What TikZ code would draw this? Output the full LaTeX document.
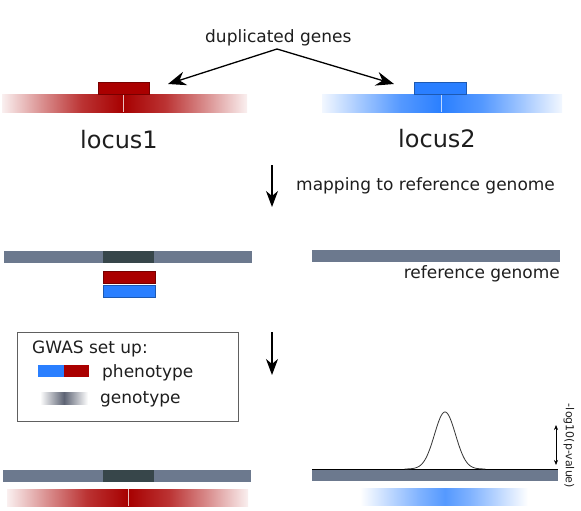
\documentclass[tikz,border=0pt]{standalone}
\usepackage{fontspec}
\setmainfont{DejaVu Sans}
\usetikzlibrary{arrows.meta}
\definecolor{dred}{HTML}{AA0000}
\definecolor{dblue}{HTML}{2A7FFF}
\definecolor{gbar}{HTML}{6C798E}
\definecolor{gdark}{HTML}{37464A}
\definecolor{gtype}{HTML}{5E6474}
\definecolor{txt}{HTML}{1E1E1E}
\pgfdeclarehorizontalshading{redL}{100bp}{color(0bp)=(dred!6); color(25bp)=(dred!6); color(42bp)=(dred!45); color(58bp)=(dred!80); color(75bp)=(dred!98!black); color(100bp)=(dred!98!black)}
\pgfdeclarehorizontalshading{redR}{100bp}{color(0bp)=(dred!98!black); color(25bp)=(dred!98!black); color(42bp)=(dred!80); color(58bp)=(dred!45); color(75bp)=(dred!6); color(100bp)=(dred!6)}
\pgfdeclarehorizontalshading{blueL}{100bp}{color(0bp)=(dblue!6); color(25bp)=(dblue!6); color(42bp)=(dblue!45); color(58bp)=(dblue!80); color(75bp)=(dblue); color(100bp)=(dblue)}
\pgfdeclarehorizontalshading{blueR}{100bp}{color(0bp)=(dblue); color(25bp)=(dblue); color(42bp)=(dblue!80); color(58bp)=(dblue!45); color(75bp)=(dblue!6); color(100bp)=(dblue!6)}
\pgfdeclarehorizontalshading{bluesoftL}{100bp}{color(0bp)=(white); color(25bp)=(white); color(45bp)=(dblue!35); color(60bp)=(dblue!60); color(75bp)=(dblue!80); color(100bp)=(dblue!80)}
\pgfdeclarehorizontalshading{bluesoftR}{100bp}{color(0bp)=(dblue!80); color(25bp)=(dblue!80); color(40bp)=(dblue!60); color(55bp)=(dblue!35); color(75bp)=(white); color(100bp)=(white)}
\begin{document}
\begin{tikzpicture}[x=1pt,y=-1pt,
  lbl/.style={inner sep=0pt, font=\fontsize{17}{20}\selectfont, text=txt},
  big/.style={inner sep=0pt, font=\fontsize{24}{28}\selectfont, text=txt},
  arr/.style={-{Stealth[length=18pt,width=14pt,inset=6pt]}, line width=1.3pt},
  darr/.style={-{Stealth[length=16pt,width=12pt,inset=5pt]}, line width=1.1pt},
  sarr/.style={{Stealth[length=5pt,width=4pt]}-{Stealth[length=5pt,width=4pt]}, line width=0.6pt},
  redbox/.style={fill=dred, draw=dred!70!black, line width=0.6pt},
  bluebox/.style={fill=dblue, draw=dblue!70!black, line width=0.6pt},
]
\useasboundingbox (0,0) rectangle (581,511);

% ---- top: duplicated genes
\node[lbl, anchor=base west] (dup) at (205,43) {duplicated genes};
\coordinate (apex) at (277,49);
\coordinate (t1) at (168,84);
\coordinate (t2) at (394,84);
\draw[arr] (apex) -- (t1);
\draw[arr] (apex) -- (t2);

% locus 1 bar
\shade[shading=redL] (2,94) rectangle (123,112);
\shade[shading=redR] (123,94) rectangle (247,112);
\draw[white!75!dred, line width=0.6pt] (123,94) -- (123,112);
\filldraw[redbox] (98,82) rectangle (149,94);
% locus 2 bar
\shade[shading=blueL] (322,94) rectangle (441,112);
\shade[shading=blueR] (441,94) rectangle (562,112);
\draw[white!70!dblue, line width=0.6pt] (441,94) -- (441,112);
\filldraw[bluebox] (414,82) rectangle (466,94);

\node[big, anchor=base west] (l1) at (80,148) {locus1};
\node[big, anchor=base west] (l2) at (398,147) {locus2};

% ---- mapping
\coordinate (d1a) at (272,165);
\coordinate (d1b) at (272,207);
\draw[darr] (d1a) -- (d1b);
\node[lbl, anchor=base west] (map) at (296,190) {mapping to reference genome};

\fill[gbar] (4,251) rectangle (252,263);
\fill[gdark] (103,251) rectangle (154,263);
\filldraw[redbox] (103,271) rectangle (155,283);
\filldraw[bluebox] (103,285) rectangle (155,297);

\fill[gbar] (312,250) rectangle (560,262);
\node[lbl, anchor=base east] (ref) at (560,278) {reference genome};

% ---- legend
\draw[gray!75!black, line width=0.8pt] (17,332) rectangle (238,421);
\node[lbl, anchor=base west] (gwas) at (32,353) {GWAS set up:};
\fill[dblue] (38,365) rectangle (64,377);
\fill[dred] (64,365) rectangle (89,377);
\node[lbl, anchor=base west] (phen) at (102,377) {phenotype};
\shade[left color=white, right color=gtype] (40,392) rectangle (64,404);
\shade[left color=gtype, right color=white] (64,392) rectangle (88,404);
\node[lbl, anchor=base west] (gen) at (100,403) {genotype};

\coordinate (d2a) at (272,332);
\coordinate (d2b) at (272,375);
\draw[darr] (d2a) -- (d2b);

% ---- bottom left
\fill[gbar] (3,470) rectangle (251,482);
\fill[gdark] (103,470) rectangle (154,482);
\shade[shading=redL] (7,489) rectangle (128,506);
\shade[shading=redR] (128,489) rectangle (248,506);
\draw[white!75!dred, line width=0.5pt] (128,489) -- (128,506);

% ---- bottom right
\fill[gbar] (312,469) rectangle (558,481);
\draw[black, line width=1pt] (312,469) -- (558,469);
\draw[black!80, line width=0.8pt] (405,469)
  -- plot[domain=405:485, samples=90, smooth] ({\x},{469-57*exp(-0.5*((\x-445)/10.5)^2)})
  -- (485,469);
\coordinate (va) at (556,425);
\coordinate (vb) at (556,465);
\draw[sarr] (va) -- (vb);
\node[inner sep=0pt, font=\fontsize{11}{13}\selectfont, text=txt, rotate=-90] (plab) at (569,446) {-log10(p-value)};
\shade[shading=bluesoftL] (360,488) rectangle (445,505);
\shade[shading=bluesoftR] (445,488) rectangle (528,505);
\end{tikzpicture}
\end{document}
